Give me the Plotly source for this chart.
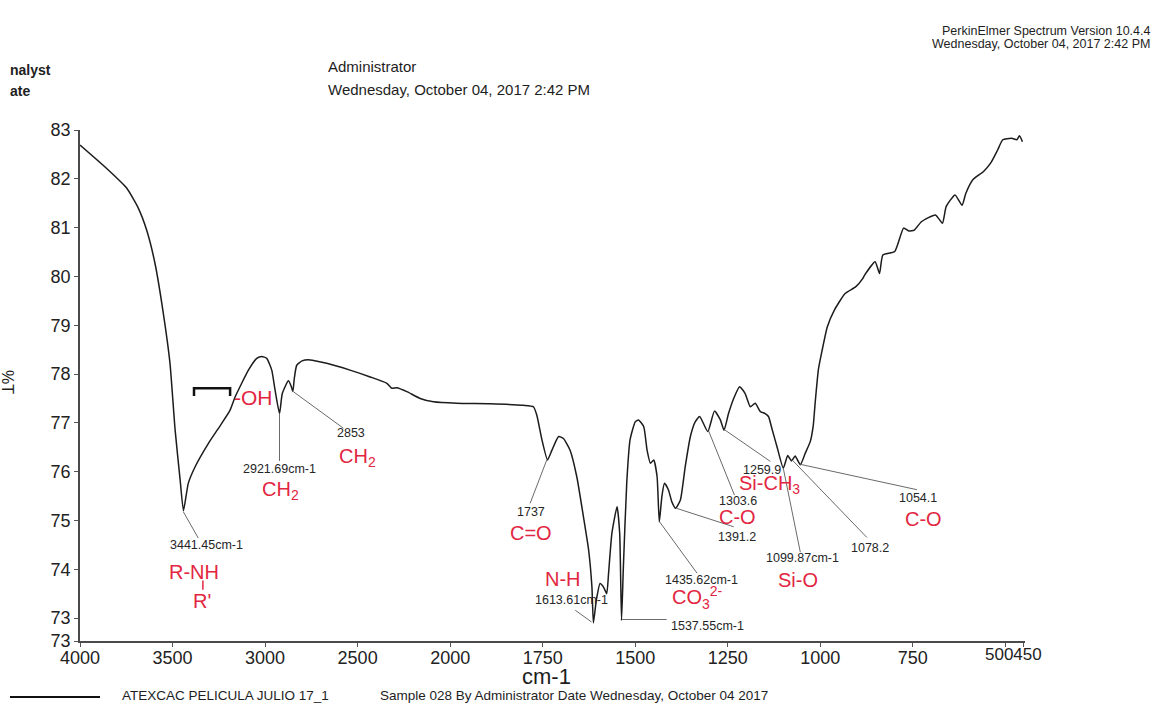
import numpy as np
import plotly.graph_objects as go

# ---------------- data ----------------
wavenumber = [4000, 3847, 3748, 3685, 3640, 3595, 3550, 3514, 3486, 3459, 3441, 3415, 3378, 3306,
              3234, 3189, 3162, 3090, 3045, 3018, 2991, 2964, 2946, 2922, 2907, 2874, 2859, 2850,
              2842, 2829, 2800, 2757, 2667, 2541, 2432, 2342, 2315, 2288, 2234, 2162, 2090, 1982,
              1892, 1802, 1775, 1766, 1752, 1737, 1725, 1707, 1694, 1676, 1658, 1640, 1626, 1617,
              1613, 1605, 1595, 1586, 1577, 1572, 1563, 1549, 1542, 1537, 1532, 1523, 1514, 1500,
              1491, 1477, 1468, 1459, 1450, 1441, 1435, 1428, 1421, 1410, 1401, 1391, 1378, 1365,
              1351, 1338, 1326, 1304, 1286, 1270, 1260, 1248, 1234, 1218, 1203, 1189, 1176, 1162,
              1149, 1140, 1131, 1117, 1100, 1088, 1078, 1068, 1054, 1041, 1027, 1019, 1014, 1005,
              995, 981, 962, 933, 904, 885, 880, 852, 840, 831, 799, 775, 761, 746, 727, 689, 670,
              660, 636, 617, 607, 588, 559, 540, 521, 507, 483, 469, 462, 454]
transmittance = [82.69, 82.18, 81.81, 81.40, 80.95, 80.27, 79.25, 78.23, 76.85, 75.83, 75.20, 75.76,
                 76.10, 76.58, 76.99, 77.26, 77.53, 78.08, 78.32, 78.36, 78.32, 78.08, 77.67, 77.19,
                 77.60, 77.86, 77.75, 77.64, 77.91, 78.18, 78.27, 78.29, 78.22, 78.08, 77.94, 77.81,
                 77.71, 77.72, 77.64, 77.50, 77.43, 77.40, 77.39, 77.36, 77.33, 77.16, 76.65, 76.24,
                 76.44, 76.72, 76.68, 76.44, 75.90, 75.08, 74.40, 73.64, 72.90, 73.37, 73.71, 73.64,
                 73.50, 73.92, 74.74, 75.28, 74.74, 72.95, 74.05, 75.76, 76.65, 77.02, 77.06, 76.92,
                 76.44, 76.17, 76.24, 75.90, 74.97, 75.49, 75.76, 75.62, 75.38, 75.25, 75.42, 76.10,
                 76.72, 77.02, 77.13, 76.82, 77.24, 77.06, 76.85, 77.19, 77.50, 77.74, 77.60, 77.33,
                 77.40, 77.23, 77.19, 77.13, 76.89, 76.51, 76.07, 76.33, 76.22, 76.32, 76.14, 76.37,
                 76.62, 76.95, 77.40, 78.10, 78.49, 78.97, 79.31, 79.65, 79.79, 79.96, 80.03, 80.30,
                 80.06, 80.44, 80.51, 80.99, 80.93, 80.95, 81.12, 81.26, 81.09, 81.43, 81.67, 81.46,
                 81.70, 81.98, 82.15, 82.32, 82.59, 82.80, 82.83, 82.80, 82.88, 82.76]

x_ticks = [4000, 3500, 3000, 2500, 2000, 1750, 1500, 1250, 1000, 750, 500, 450]
x_tick_labels = ["4000", "3500", "3000", "2500", "2000", "1750", "1500", "1250", "1000", "750", "", ""]
y_ticks = [72.53, 73, 74, 75, 76, 77, 78, 79, 80, 81, 82, 83]
y_tick_labels = ["73", "73", "74", "75", "76", "77", "78", "79", "80", "81", "82", "83"]

# peak labels: (text, label wn, label %T, curve wn, curve %T, leader end wn, leader end %T)
peak_labels = [
    ("3441.45cm-1", 3319, 74.50, 3442, 75.18, 3361, 74.64),
    ("2921.69cm-1", 2924, 76.05, 2922, 77.19, 2922, 76.22),
    ("2853", 2535, 76.79, 2848, 77.64, 2577, 76.89),
    ("1737", 1781, 75.17, 1739, 76.24, 1784, 75.35),
    ("1613.61cm-1", 1671, 73.37, 1618, 72.92, 1662, 73.16),
    ("1537.55cm-1", 1305, 72.83, 1535, 72.97, 1415, 72.97),
    ("1435.62cm-1", 1322, 73.79, 1435, 74.98, 1333, 73.92),
    ("1391.2", 1225, 74.67, 1389, 75.25, 1234, 74.87),
    ("1303.6", 1223, 75.40, 1302, 76.84, 1232, 75.52),
    ("1259.9", 1158, 76.03, 1259, 76.86, 1135, 76.21),
    ("1099.87cm-1", 1047, 74.24, 1100, 76.07, 1054, 74.35),
    ("1078.2", 867, 74.44, 1076, 76.24, 874, 74.65),
    ("1054.1", 735, 75.46, 1054, 76.15, 739, 75.63),
]

# functional-group labels (red)
group_labels = [
    ("R-NH", 3384, 73.94),
    ("R'", 3341, 73.35),
    ("CH<sub>2</sub>", 2919, 75.62),
    ("CH<sub>2</sub>", 2503, 76.30),
    ("C=O", 1782, 74.74),
    ("N-H", 1694, 73.81),
    ("CO<sub>3</sub><sup>2-</sup>", 1332, 73.42),
    ("C-O", 1223, 75.08),
    ("Si-CH<sub>3</sub>", 1138, 75.73),
    ("Si-O", 1061, 73.78),
    ("C-O", 722, 75.04),
]


def to_axis(w):
    """Two-scale wavenumber axis: above 2000 cm-1 is compressed by half."""
    w = np.asarray(w, dtype=float)
    return np.where(w <= 2000, w, 2000 + (w - 2000) / 2.0)


def ax1(w):
    return float(to_axis([w])[0])


RED = "#e2263f"
FONT = "Arial, 'Liberation Sans', sans-serif"

fig = go.Figure()
fig.add_trace(go.Scatter(x=to_axis(wavenumber), y=transmittance, mode="lines",
                         line=dict(color="#1c1c1c", width=1.5, shape="spline", smoothing=0.5),
                         hoverinfo="skip", showlegend=False))

shapes = []
annotations = []

for text, lw, lt, cw, ct, ew, et in peak_labels:
    shapes.append(dict(type="line", xref="x", yref="y", x0=ax1(cw), y0=ct, x1=ax1(ew), y1=et,
                       line=dict(color="#6a6a6a", width=1)))
    annotations.append(dict(x=ax1(lw), y=lt, xref="x", yref="y", text=text, showarrow=False,
                            xanchor="center", yanchor="middle",
                            font=dict(family=FONT, size=12.5, color="#262626")))

for text, lw, lt in group_labels:
    annotations.append(dict(x=ax1(lw), y=lt, xref="x", yref="y", text=text, showarrow=False,
                            xanchor="center", yanchor="middle",
                            font=dict(family=FONT, size=20, color=RED)))

# -OH with bracket
annotations.append(dict(x=ax1(3180), y=77.51, xref="x", yref="y", text="-OH", showarrow=False,
                        xanchor="left", yanchor="middle", font=dict(family=FONT, size=21, color=RED)))
shapes.append(dict(type="path", xref="x", yref="y",
                   path=f"M {ax1(3384)},77.55 L {ax1(3384)},77.71 L {ax1(3189)},77.71 L {ax1(3189)},77.55",
                   line=dict(color="#111111", width=2.5)))
# bar between R-NH and R'
shapes.append(dict(type="line", xref="x", yref="y", x0=ax1(3336), y0=73.77, x1=ax1(3336), y1=73.58,
                   line=dict(color=RED, width=1.5)))

# 500/450 tick label (they run together in the original)
annotations.append(dict(x=ax1(478), y=0, xref="x", yref="paper", xanchor="center", yanchor="top",
                        yshift=-2, text="500450", showarrow=False,
                        font=dict(family=FONT, size=17, color="#222222")))


def px(xp):
    return (xp - 80) / 945.0


def py(yp):
    return (641 - yp) / 511.0


header = [
    ("<b>nalyst</b>", 8, 70, "left", 14),
    ("<b>ate</b>", 8, 91, "left", 14),
    ("Administrator", 326, 67, "left", 15),
    ("Wednesday, October 04, 2017 2:42 PM", 326, 89, "left", 15),
    ("PerkinElmer Spectrum Version 10.4.4", 1152, 31, "right", 12.5),
    ("Wednesday, October 04, 2017 2:42 PM", 1152, 44, "right", 12.5),
    ("ATEXCAC PELICULA JULIO 17_1", 120, 695, "left", 13.5),
    ("Sample 028 By Administrator Date Wednesday, October 04 2017", 378, 695, "left", 13.5),
]
for text, xx, yy, anc, size in header:
    annotations.append(dict(x=px(xx), y=py(yy), xref="paper", yref="paper", text=text,
                            showarrow=False, xanchor=anc, yanchor="middle",
                            font=dict(family=FONT, size=size, color="#1e1e1e")))

annotations.append(dict(x=px(546), y=py(676), xref="paper", yref="paper", text="cm-1",
                        showarrow=False, xanchor="center", yanchor="middle",
                        font=dict(family=FONT, size=22, color="#1e1e1e")))
annotations.append(dict(x=px(8), y=py(382), xref="paper", yref="paper", text="%T",
                        showarrow=False, textangle=90, xanchor="center", yanchor="middle",
                        font=dict(family=FONT, size=16, color="#1e1e1e")))

shapes.append(dict(type="line", xref="paper", yref="paper", x0=px(10), x1=px(100), y0=py(697), y1=py(697),
                   line=dict(color="#111111", width=2)))

fig.update_layout(
    width=1155, height=704,
    margin=dict(l=80, r=130, t=130, b=63),
    paper_bgcolor="white", plot_bgcolor="white",
    showlegend=False,
    shapes=shapes, annotations=annotations,
    xaxis=dict(range=[3000, 447], tickmode="array", tickvals=to_axis(x_ticks).tolist(),
               ticktext=x_tick_labels, ticks="outside", ticklen=4, tickcolor="#555555",
               ticklabelstandoff=-4,
               showline=True, linecolor="#4a4a4a", linewidth=1.5, showgrid=False, zeroline=False,
               tickangle=0, tickfont=dict(family=FONT, size=18, color="#222222")),
    yaxis=dict(range=[72.53, 83], tickmode="array", tickvals=y_ticks, ticktext=y_tick_labels,
               ticks="outside", ticklen=4, tickcolor="#555555", showline=True, linecolor="#4a4a4a",
               linewidth=1.5, showgrid=False, zeroline=False,
               tickfont=dict(family=FONT, size=18, color="#222222")),
)

fig.write_html("out.html")
